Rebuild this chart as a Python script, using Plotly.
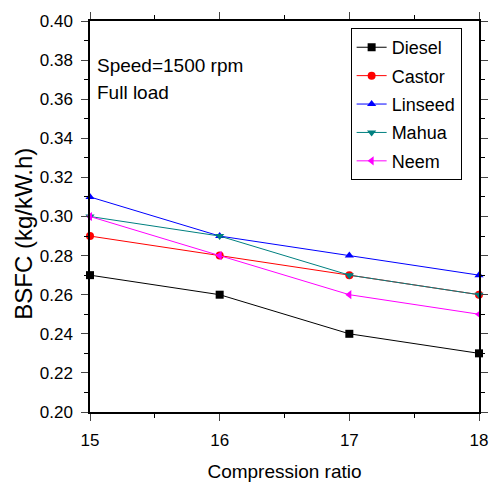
import plotly.graph_objects as go

cr = [15, 16, 17, 18]
diesel = [0.27, 0.26, 0.24, 0.23]
castor = [0.29, 0.28, 0.27, 0.26]
linseed = [0.31, 0.29, 0.28, 0.27]
mahua = [0.30, 0.29, 0.27, 0.26]
neem = [0.30, 0.28, 0.26, 0.25]
y_ticks = [0.20, 0.22, 0.24, 0.26, 0.28, 0.30, 0.32, 0.34, 0.36, 0.38, 0.40]
x_ticks = [15, 16, 17, 18]

series = [
    ("Diesel", diesel, "black", "square"),
    ("Castor", castor, "red", "circle"),
    ("Linseed", linseed, "blue", "triangle-up"),
    ("Mahua", mahua, "#008080", "triangle-down"),
    ("Neem", neem, "magenta", "triangle-left"),
]

FAM = "Liberation Sans, Arial"

fig = go.Figure()
for name, ys, col, sym in series:
    fig.add_trace(go.Scatter(x=cr, y=ys, name=name, mode="lines+markers",
                             legendgroup=name,
                             line=dict(color=col, width=1),
                             marker=dict(color=col, symbol=sym, size=8),
                             cliponaxis=False))

tickfont = dict(family=FAM, size=17, color="black")
fig.update_layout(
    width=500, height=491,
    margin=dict(l=90, r=16, t=15, b=79),
    plot_bgcolor="white", paper_bgcolor="white",
    font=dict(family=FAM, size=17, color="black"),
    showlegend=True,
    legend=dict(x=0.67, y=0.982, xanchor="left", yanchor="top",
                bordercolor="black", borderwidth=1, bgcolor="white",
                font=dict(family=FAM, size=18, color="black"),
                tracegroupgap=2, itemwidth=30),
    annotations=[
        dict(x=0.012, y=0.887, xref="paper", yref="paper",
             xanchor="left", yanchor="middle", showarrow=False,
             text="Speed=1500 rpm",
             font=dict(family=FAM, size=19, color="black")),
        dict(x=0.012, y=0.816, xref="paper", yref="paper",
             xanchor="left", yanchor="middle", showarrow=False,
             text="Full load",
             font=dict(family=FAM, size=19, color="black")),
        dict(x=0, xshift=-66, y=0.456, xref="paper", yref="paper",
             xanchor="center", yanchor="middle", showarrow=False,
             textangle=-90, text="BSFC (kg/kW.h)",
             font=dict(family=FAM, size=24, color="black")),
    ],
)
fig.update_xaxes(range=[15, 18], tickvals=x_ticks, ticks="outside",
                 ticklen=7, ticklabelstandoff=5, showline=True, linecolor="black", linewidth=1.5,
                 mirror="ticks", showgrid=False, zeroline=False,
                 minor=dict(ticks="outside", ticklen=4, dtick=0.5, tickcolor="black"),
                 title=dict(text="Compression ratio", standoff=16,
                            font=dict(family=FAM, size=19, color="black")),
                 tickfont=tickfont)
fig.update_yaxes(range=[0.20, 0.40], tickvals=y_ticks,
                 tickformat=".2f", ticks="outside",
                 ticklen=7, ticklabelstandoff=5, showline=True, linecolor="black", linewidth=1.5,
                 mirror="ticks", showgrid=False, zeroline=False,
                 minor=dict(ticks="outside", ticklen=4, dtick=0.01, tickcolor="black"),
                 tickfont=tickfont)
fig.write_html("out.html")
